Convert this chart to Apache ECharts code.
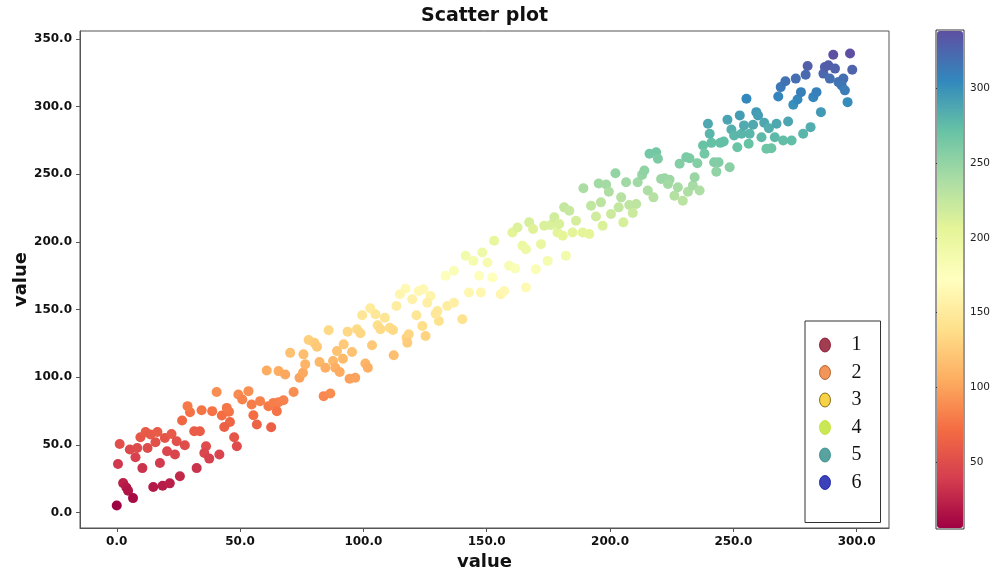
<!DOCTYPE html>
<html>
<head>
<meta charset="utf-8">
<script src="https://cdn.jsdelivr.net/npm/echarts@6/dist/echarts.min.js"></script>
<style>html,body{margin:0;padding:0;background:#fff}#c{width:994px;height:571px}</style>
</head>
<body>
<div id="c"></div>
<script>
// ---- data ----
const xs = [0.0,2.6,3.9,4.6,6.6,0.5,1.2,5.3,8.3,7.6,10.4,12.5,9.6,11.7,13.7,15.7,16.5,19.5,22.2,24.3,27.6,20.4,23.6,17.5,14.8,18.6,21.5,25.6,32.4,31.4,33.7,26.5,29.7,28.7,34.4,38.7,40.5,42.6,45.5,44.6,45.9,43.6,47.6,48.7,36.2,35.5,37.5,41.6,49.3,53.4,50.9,54.7,58.1,55.4,56.8,60.8,65.6,68.3,70.3,61.5,63.5,65.6,67.6,62.6,64.9,71.7,
83.9,86.6,74.1,75.5,75.7,76.4,77.8,80.1,81.2,82.2,84.6,87.7,88.6,90.4,89.3,92.0,91.7,95.4,94.4,96.7,100.8,101.8,103.5,85.9,93.6,97.4,98.8,99.5,102.8,104.9,105.8,106.9,108.7,110.7,112.0,112.3,113.4,114.8,117.1,119.8,117.5,118.4,117.8,121.5,123.9,125.2,122.5,124.3,127.2,125.9,130.0,130.6,129.3,134.0,136.7,133.3,136.7,140.1,141.5,144.6,142.8,
147.6,155.7,157.1,152.3,146.9,148.2,150.3,153.0,159.1,161.5,165.9,169.9,174.7,182.1,160.4,162.5,164.5,165.9,167.2,168.8,172.0,173.3,176.0,177.4,178.7,180.8,179.4,184.8,186.2,188.9,191.6,181.4,183.5,189.2,192.3,196.3,194.3,197.0,195.4,198.4,199.5,200.4,203.5,204.5,202.2,206.5,207.8,209.2,205.4,210.6,211.2,213.0,213.9,215.3,217.6,216.0,218.7,219.4,220.7,
226.1,229.5,227.5,231.6,233.6,236.3,234.3,222.1,224.1,223.5,228.2,230.9,232.2,235.4,237.7,238.3,242.2,244.0,243.1,248.5,241.1,239.7,240.4,244.7,246.1,247.6,249.2,250.3,251.6,252.6,253.3,254.3,255.3,256.6,258.0,256.2,259.3,260.0,261.4,262.5,263.4,264.4,265.4,266.8,267.5,270.2,272.2,273.6,268.2,269.2,271.1,275.3,274.3,276.0,277.4,278.3,280.1,279.3,281.3,282.4,283.7,285.5,286.5,287.1,288.5,289.1,290.5,291.2,292.6,294.6,293.9,295.2,296.3,297.3,298.2];
const ys = [5.2,21.7,18.5,16.0,10.6,35.8,50.6,46.5,47.7,40.8,32.8,47.7,55.6,59.5,57.6,51.9,59.5,55.1,58.0,52.6,49.7,45.2,42.8,36.5,18.8,19.8,21.5,26.7,32.8,60.0,60.0,68.0,74.1,78.6,75.6,74.9,89.0,71.7,74.4,77.3,66.9,63.2,55.6,48.9,48.9,44.0,39.8,42.8,87.2,89.7,83.5,79.8,82.3,71.9,65.0,105.0,104.5,102.0,118.0,78.6,81.0,81.5,83.0,63.0,74.9,89.0,
86.0,88.0,99.6,103.3,116.9,109.5,127.5,125.5,122.5,111.2,107.0,112.0,107.0,103.8,119.3,124.3,113.6,118.6,98.8,99.6,110.2,107.0,123.6,134.7,133.7,135.4,132.5,145.8,151.0,146.6,138.4,135.4,144.0,136.6,134.9,116.2,152.7,161.4,165.5,157.7,129.2,131.7,125.5,145.8,137.9,130.5,163.8,165.1,160.1,155.1,149.0,141.6,147.0,152.7,155.1,175.0,178.7,142.8,189.8,186.0,162.6,
162.6,161.4,163.8,173.7,175.0,192.2,184.8,200.9,182.4,180.4,166.3,179.9,186.0,189.8,207.0,210.7,197.2,194.7,214.5,209.6,198.4,212.0,212.5,218.2,207.0,204.6,213.3,207.0,215.7,207.0,205.9,225.6,223.1,239.7,226.8,229.3,218.9,212.0,243.3,242.5,237.1,220.7,225.6,233.0,250.8,244.1,227.4,221.4,214.5,228.1,244.1,249.6,252.8,238.0,233.0,265.2,266.4,261.5,246.6,
234.2,230.5,240.4,237.2,241.7,238.0,247.8,247.1,246.1,242.9,257.8,262.6,261.9,258.2,271.3,265.2,258.9,258.9,252.0,255.2,273.3,287.4,280.0,273.3,274.3,290.4,283.2,278.7,270.0,293.6,280.0,286.2,305.9,280.0,286.7,272.6,296.0,293.6,277.5,288.2,268.9,284.1,269.3,277.5,287.4,275.0,289.1,275.0,307.6,314.5,318.8,320.8,301.5,305.4,310.8,280.0,330.1,323.7,284.9,307.1,310.8,296.0,324.5,329.4,330.6,320.8,338.5,328.2,318.2,320.8,315.8,312.1,303.4,339.3,327.4];
const legendNames = ['1','2','3','4','5','6'];
const legendColors = ['#8a0d24','#ef7a2f','#f5c518','#bde22a','#2e8b87','#0b14a8'];
const legendEdges = ['#8a0d24','#a9501c','#6e5200','#bde22a','#2e8b87','#0b14a8'];
const xTicks = [0,50,100,150,200,250,300];
const yTicks = [0,50,100,150,200,250,300,350];
const cbTicks = [50,100,150,200,250,300];
const spectral = ['#9e0142','#d53e4f','#f46d43','#fdae61','#fee08b','#ffffbf','#e6f598','#abdda4','#66c2a5','#3288bd','#5e4fa2'];

const cMin = Math.min(...ys), cMax = Math.max(...ys);
const pts = xs.map((x,i)=>[x, ys[i]]);
const tickFont = {fontFamily:'DejaVu Sans', fontWeight:'bold', fontSize:12, color:'#111'};
const ellipse = 'path://M0,7 A5.5,7 0 1,0 11,7 A5.5,7 0 1,0 0,7 Z';

const chart = echarts.init(document.getElementById('c'), null, {renderer:'canvas'});
const option = {
  animation:false,
  backgroundColor:'#fff',
  title:{text:'Scatter plot', left:421, top:7, padding:0,
    textStyle:{fontFamily:'DejaVu Sans', fontWeight:'bold', fontSize:19, color:'#111'}},
  grid:[
    {left:80, top:31, width:809, height:497, show:true, borderColor:'#555', borderWidth:1,
     backgroundColor:'transparent', outerBoundsMode:'none', containLabel:false},
    {left:936, top:30, width:28, height:499, show:true, borderColor:'#333', borderWidth:1,
     backgroundColor:'transparent', outerBoundsMode:'none', containLabel:false}
  ],
  xAxis:[
    {type:'value', gridIndex:0, min:-14.9, max:313.1,
     name:'value', nameLocation:'middle', nameGap:25, nameMoveOverlap:false,
     nameTextStyle:{fontFamily:'DejaVu Sans', fontWeight:'bold', fontSize:18, color:'#111'},
     splitLine:{show:false},
     axisLine:{show:true, onZero:false, lineStyle:{color:'#555'}},
     axisTick:{show:true, length:4, lineStyle:{color:'#555'}, customValues:xTicks},
     axisLabel:{...tickFont, margin:8, customValues:xTicks, formatter:v=>v.toFixed(1)}},
    {type:'value', gridIndex:1, min:0, max:1, show:false}
  ],
  yAxis:[
    {type:'value', gridIndex:0, min:-11.5, max:356,
     name:'value', nameLocation:'middle', nameGap:50, nameRotate:90, nameMoveOverlap:false,
     nameTextStyle:{fontFamily:'DejaVu Sans', fontWeight:'bold', fontSize:18, color:'#111'},
     splitLine:{show:false},
     axisLine:{show:true, onZero:false, lineStyle:{color:'#555'}},
     axisTick:{show:true, length:4, lineStyle:{color:'#555'}, customValues:yTicks},
     axisLabel:{...tickFont, margin:8, customValues:yTicks, formatter:v=>v.toFixed(1)}},
    {type:'value', gridIndex:1, position:'right', min:cMin, max:cMax,
     splitLine:{show:false},
     axisLine:{show:false},
     axisTick:{show:true, length:4, lineStyle:{color:'#333'}, customValues:cbTicks},
     axisLabel:{fontFamily:'DejaVu Sans', fontSize:10.5, color:'#222', margin:6, customValues:cbTicks}}
  ],
  visualMap:[{
    type:'continuous', seriesIndex:0, dimension:1, min:cMin, max:cMax,
    left:937, top:31, itemWidth:26, itemHeight:497, padding:0,
    calculable:false, hoverLink:false, text:null,
    inRange:{color:spectral}
  }],
  legend:{
    data:legendNames.map((n,i)=>({name:n, icon:ellipse,
      itemStyle:{color:legendColors[i], borderColor:legendEdges[i], borderWidth:1}})),
    orient:'vertical', left:805, top:321,
    padding:[14,19,30,14], itemGap:7.5, itemWidth:11, itemHeight:14,
    symbolKeepAspect:false,
    borderColor:'#333', borderWidth:1, backgroundColor:'#fff',
    textStyle:{fontFamily:'Liberation Serif', fontSize:20, color:'#111', padding:[0,0,0,16]},
    selectedMode:false
  },
  series:[
    {name:'pts', type:'scatter', xAxisIndex:0, yAxisIndex:0, symbolSize:10, data:pts, z:2,
     itemStyle:{opacity:1}},
    ...legendNames.map((n,i)=>({name:n, type:'scatter', xAxisIndex:0, yAxisIndex:0, data:[],
      itemStyle:{color:legendColors[i]}}))
  ]
};
chart.setOption(option);
</script>
</body>
</html>
